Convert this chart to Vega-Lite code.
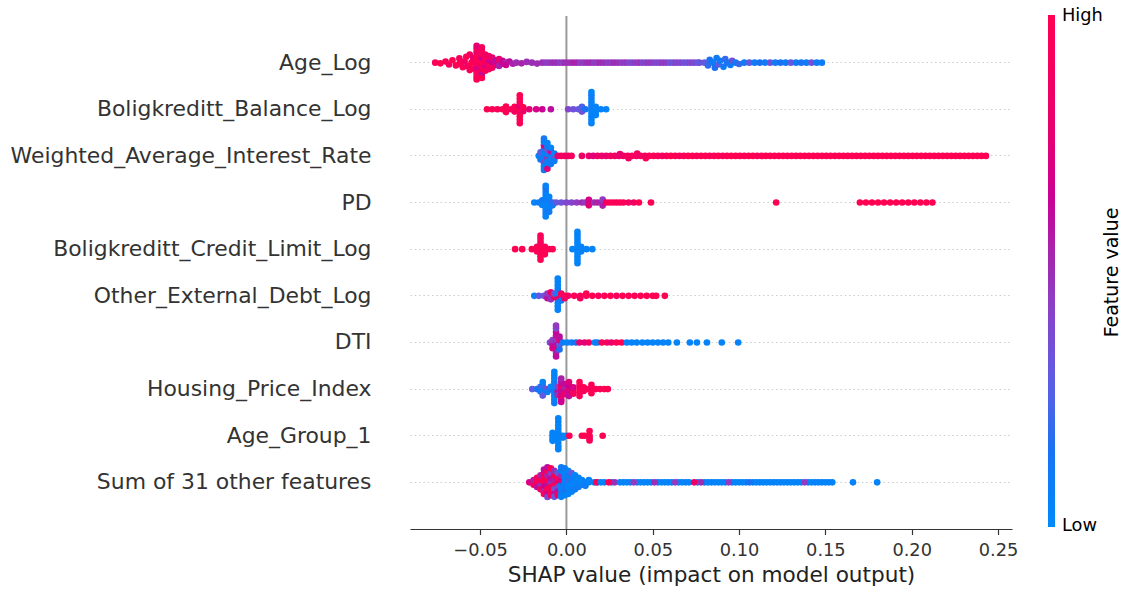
{
"$schema":"https://vega.github.io/schema/vega-lite/v6.json",
"width":602,"height":513,
"autosize":"none",
"padding":{"left":410,"top":16,"right":114,"bottom":60},
"background":"white",
"config":{"font":"DejaVu Sans","view":{"stroke":null}},
"title":{"text":"Feature value","orient":"right","anchor":"middle","angle":270,"baseline":"top","fontSize":19,"fontWeight":"normal","color":"#000000","offset":-19},
"datasets":{
"names":[{"k":1,"feature":"Age_Log"},{"k":2,"feature":"Boligkreditt_Balance_Log"},{"k":3,"feature":"Weighted_Average_Interest_Rate"},{"k":4,"feature":"PD"},{"k":5,"feature":"Boligkreditt_Credit_Limit_Log"},{"k":6,"feature":"Other_External_Debt_Log"},{"k":7,"feature":"DTI"},{"k":8,"feature":"Housing_Price_Index"},{"k":9,"feature":"Age_Group_1"},{"k":10,"feature":"Sum of 31 other features"}],
"points":[
{"k":1,"s":-0.076,"o":0,"v":0.95},{"k":1,"s":-0.073,"o":0.03,"v":1},{"k":1,"s":-0.070,"o":-0.05,"v":0.95},{"k":1,"s":-0.068,"o":0.08,"v":0.9},{"k":1,"s":-0.066,"o":-0.1,"v":1},{"k":1,"s":-0.064,"o":0.12,"v":0.95},{"k":1,"s":-0.062,"o":-0.18,"v":0.9},{"k":1,"s":-0.062,"o":0.05,"v":1},{"k":1,"s":-0.060,"o":0.2,"v":0.95},{"k":1,"s":-0.059,"o":-0.05,"v":0.85},{"k":1,"s":-0.058,"o":-0.25,"v":1},{"k":1,"s":-0.057,"o":0.15,"v":0.9},{"k":1,"s":-0.056,"o":0.32,"v":0.95},{"k":1,"s":-0.056,"o":-0.35,"v":0.9},{"k":1,"s":-0.055,"o":0,"v":1},{"k":1,"s":-0.054,"o":-0.2,"v":0.8},{"k":1,"s":-0.054,"o":0.25,"v":0.95},
{"k":1,"s":-0.052,"o":0,"v":1},{"k":1,"s":-0.052,"o":0.15,"v":0.9},{"k":1,"s":-0.052,"o":-0.15,"v":0.95},{"k":1,"s":-0.052,"o":0.3,"v":0.7},{"k":1,"s":-0.052,"o":-0.3,"v":1},{"k":1,"s":-0.052,"o":0.45,"v":0.95},{"k":1,"s":-0.052,"o":-0.45,"v":0.8},{"k":1,"s":-0.052,"o":0.6,"v":1},{"k":1,"s":-0.052,"o":-0.6,"v":0.9},{"k":1,"s":-0.052,"o":0.72,"v":0.95},{"k":1,"s":-0.052,"o":-0.72,"v":0.75},
{"k":1,"s":-0.049,"o":0.08,"v":0.85},{"k":1,"s":-0.049,"o":-0.08,"v":1},{"k":1,"s":-0.049,"o":0.22,"v":0.95},{"k":1,"s":-0.049,"o":-0.22,"v":0.65},{"k":1,"s":-0.049,"o":0.38,"v":0.9},{"k":1,"s":-0.049,"o":-0.38,"v":1},{"k":1,"s":-0.049,"o":0.52,"v":0.6},{"k":1,"s":-0.049,"o":-0.52,"v":0.95},{"k":1,"s":-0.049,"o":0.66,"v":1},{"k":1,"s":-0.049,"o":-0.66,"v":0.9},
{"k":1,"s":-0.047,"o":0,"v":0.9},{"k":1,"s":-0.047,"o":0.2,"v":0.7},{"k":1,"s":-0.047,"o":-0.2,"v":0.95},{"k":1,"s":-0.047,"o":0.35,"v":1},{"k":1,"s":-0.047,"o":-0.35,"v":0.85},
{"k":1,"s":-0.045,"o":0.1,"v":0.95},{"k":1,"s":-0.045,"o":-0.1,"v":0.7},{"k":1,"s":-0.045,"o":0.28,"v":0.85},{"k":1,"s":-0.045,"o":-0.28,"v":0.9},
{"k":1,"s":-0.043,"o":0,"v":0.65},{"k":1,"s":-0.043,"o":0.22,"v":0.9},{"k":1,"s":-0.043,"o":-0.22,"v":0.8},
{"k":1,"s":-0.041,"o":0.1,"v":0.75},{"k":1,"s":-0.041,"o":-0.1,"v":0.6},
{"k":1,"s":-0.039,"o":0,"v":0.7},{"k":1,"s":-0.039,"o":0.14,"v":0.55},{"k":1,"s":-0.039,"o":-0.15,"v":0.8},
{"k":1,"s":-0.037,"o":0.05,"v":0.6},{"k":1,"s":-0.037,"o":-0.08,"v":0.65},
{"k":1,"s":-0.035,"o":0,"v":0.55},{"k":1,"s":-0.035,"o":0.1,"v":0.65},
{"k":1,"s":-0.033,"o":-0.05,"v":0.6},{"k":1,"s":-0.031,"o":0.05,"v":0.55},{"k":1,"s":-0.029,"o":0,"v":0.5},{"k":1,"s":-0.026,"o":0.03,"v":0.55},{"k":1,"s":-0.023,"o":-0.03,"v":0.5},{"k":1,"s":-0.020,"o":0,"v":0.5},{"k":1,"s":-0.017,"o":0.04,"v":0.5},
{"k":1,"s":-0.014,"o":0,"v":0.5},{"k":1,"s":-0.010,"o":0,"v":0.45},{"k":1,"s":-0.006,"o":0,"v":0.5},{"k":1,"s":-0.002,"o":0,"v":0.55},{"k":1,"s":0.002,"o":0,"v":0.45},{"k":1,"s":0.006,"o":0,"v":0.5},{"k":1,"s":0.010,"o":0,"v":0.45},{"k":1,"s":0.014,"o":0,"v":0.5},{"k":1,"s":0.018,"o":0,"v":0.55},{"k":1,"s":0.022,"o":0,"v":0.45},{"k":1,"s":0.026,"o":0,"v":0.5},{"k":1,"s":0.030,"o":0,"v":0.45},{"k":1,"s":0.034,"o":0,"v":0.5},{"k":1,"s":0.038,"o":0,"v":0.4},{"k":1,"s":0.042,"o":0,"v":0.5},{"k":1,"s":0.046,"o":0,"v":0.45},{"k":1,"s":0.050,"o":0,"v":0.4},{"k":1,"s":0.054,"o":0,"v":0.45},{"k":1,"s":0.058,"o":0,"v":0.4},{"k":1,"s":0.062,"o":0,"v":0.45},{"k":1,"s":0.066,"o":0,"v":0.4},{"k":1,"s":0.070,"o":0,"v":0.35},{"k":1,"s":0.074,"o":0,"v":0.4},{"k":1,"s":0.077,"o":0,"v":0.45},
{"k":1,"s":-0.012,"o":0,"v":0.45},{"k":1,"s":-0.008,"o":0,"v":0.5},{"k":1,"s":-0.004,"o":0,"v":0.45},{"k":1,"s":0.000,"o":0,"v":0.5},{"k":1,"s":0.004,"o":0,"v":0.55},{"k":1,"s":0.008,"o":0,"v":0.45},{"k":1,"s":0.012,"o":0,"v":0.5},{"k":1,"s":0.016,"o":0,"v":0.45},{"k":1,"s":0.020,"o":0,"v":0.5},{"k":1,"s":0.024,"o":0,"v":0.45},{"k":1,"s":0.028,"o":0,"v":0.5},{"k":1,"s":0.032,"o":0,"v":0.45},{"k":1,"s":0.036,"o":0,"v":0.4},{"k":1,"s":0.040,"o":0,"v":0.45},{"k":1,"s":0.044,"o":0,"v":0.4},{"k":1,"s":0.048,"o":0,"v":0.45},{"k":1,"s":0.052,"o":0,"v":0.4},{"k":1,"s":0.056,"o":0,"v":0.45},{"k":1,"s":0.060,"o":0,"v":0.35},{"k":1,"s":0.064,"o":0,"v":0.4},{"k":1,"s":0.068,"o":0,"v":0.35},{"k":1,"s":0.072,"o":0,"v":0.4},{"k":1,"s":0.076,"o":0,"v":0.3},
{"k":1,"s":0.080,"o":0,"v":0.3},{"k":1,"s":0.082,"o":0.12,"v":0.2},{"k":1,"s":0.083,"o":-0.12,"v":0.15},{"k":1,"s":0.085,"o":0,"v":0.1},{"k":1,"s":0.086,"o":0.22,"v":0.15},{"k":1,"s":0.087,"o":-0.2,"v":0.1},{"k":1,"s":0.088,"o":0.08,"v":0.3},{"k":1,"s":0.089,"o":-0.08,"v":0.1},{"k":1,"s":0.091,"o":0.18,"v":0.1},{"k":1,"s":0.092,"o":-0.15,"v":0.2},{"k":1,"s":0.093,"o":0,"v":0.15},{"k":1,"s":0.095,"o":0.1,"v":0.1},{"k":1,"s":0.096,"o":-0.08,"v":0.35},{"k":1,"s":0.098,"o":0,"v":0.1},{"k":1,"s":0.100,"o":0.06,"v":0.2},
{"k":1,"s":0.103,"o":0,"v":0.1},{"k":1,"s":0.106,"o":0,"v":0.3},{"k":1,"s":0.109,"o":0,"v":0.1},{"k":1,"s":0.112,"o":0,"v":0.15},{"k":1,"s":0.115,"o":0,"v":0.1},{"k":1,"s":0.118,"o":0,"v":0.35},{"k":1,"s":0.121,"o":0,"v":0.1},{"k":1,"s":0.124,"o":0,"v":0.15},{"k":1,"s":0.127,"o":0,"v":0.1},{"k":1,"s":0.130,"o":0,"v":0.3},{"k":1,"s":0.133,"o":0,"v":0.1},{"k":1,"s":0.136,"o":0,"v":0.15},{"k":1,"s":0.139,"o":0,"v":0.1},{"k":1,"s":0.142,"o":0,"v":0.35},{"k":1,"s":0.145,"o":0,"v":0.1},{"k":1,"s":0.148,"o":0,"v":0.1},

{"k":2,"s":-0.046,"o":0,"v":1},{"k":2,"s":-0.043,"o":0,"v":1},{"k":2,"s":-0.040,"o":0,"v":0.95},{"k":2,"s":-0.037,"o":0,"v":1},{"k":2,"s":-0.035,"o":0.12,"v":0.95},{"k":2,"s":-0.035,"o":-0.12,"v":1},{"k":2,"s":-0.032,"o":0,"v":0.95},{"k":2,"s":-0.030,"o":0.1,"v":0.9},{"k":2,"s":-0.030,"o":-0.1,"v":1},
{"k":2,"s":-0.027,"o":0,"v":1},{"k":2,"s":-0.027,"o":0.15,"v":0.95},{"k":2,"s":-0.027,"o":-0.15,"v":0.7},{"k":2,"s":-0.027,"o":0.3,"v":1},{"k":2,"s":-0.027,"o":-0.3,"v":0.95},{"k":2,"s":-0.027,"o":0.45,"v":1},{"k":2,"s":-0.027,"o":-0.45,"v":1},{"k":2,"s":-0.027,"o":0.6,"v":0.95},{"k":2,"s":-0.027,"o":-0.6,"v":1},
{"k":2,"s":-0.025,"o":0.08,"v":0.8},{"k":2,"s":-0.025,"o":-0.08,"v":1},{"k":2,"s":-0.0215,"o":0,"v":0.75},{"k":2,"s":-0.0175,"o":0,"v":0.7},{"k":2,"s":-0.014,"o":0,"v":0.65},{"k":2,"s":-0.009,"o":0,"v":0.6},
{"k":2,"s":0.001,"o":0,"v":0.4},{"k":2,"s":0.004,"o":0,"v":0.35},{"k":2,"s":0.007,"o":0,"v":0.3},{"k":2,"s":0.009,"o":0.1,"v":0.35},{"k":2,"s":0.009,"o":-0.1,"v":0.25},{"k":2,"s":0.011,"o":0,"v":0.15},
{"k":2,"s":0.0145,"o":0,"v":0.05},{"k":2,"s":0.0145,"o":0.15,"v":0.05},{"k":2,"s":0.0145,"o":-0.15,"v":0.1},{"k":2,"s":0.0145,"o":0.3,"v":0.05},{"k":2,"s":0.0145,"o":-0.3,"v":0.05},{"k":2,"s":0.0145,"o":0.45,"v":0.05},{"k":2,"s":0.0145,"o":-0.45,"v":0.05},{"k":2,"s":0.0145,"o":0.6,"v":0.05},{"k":2,"s":0.0145,"o":-0.6,"v":0.1},{"k":2,"s":0.0145,"o":-0.74,"v":0.05},
{"k":2,"s":0.017,"o":0.1,"v":0.05},{"k":2,"s":0.017,"o":-0.1,"v":0.05},{"k":2,"s":0.017,"o":0.25,"v":0.05},{"k":2,"s":0.020,"o":0,"v":0.05},{"k":2,"s":0.023,"o":0,"v":0.05},

{"k":3,"s":-0.016,"o":0,"v":0.05},{"k":3,"s":-0.015,"o":0.15,"v":0.1},{"k":3,"s":-0.015,"o":-0.15,"v":0.3},
{"k":3,"s":-0.013,"o":0,"v":0.05},{"k":3,"s":-0.013,"o":0.15,"v":0.1},{"k":3,"s":-0.013,"o":-0.15,"v":0.05},{"k":3,"s":-0.013,"o":0.3,"v":0.4},{"k":3,"s":-0.013,"o":-0.3,"v":0.1},{"k":3,"s":-0.013,"o":0.45,"v":0.05},{"k":3,"s":-0.013,"o":-0.45,"v":0.7},{"k":3,"s":-0.013,"o":0.6,"v":0.1},{"k":3,"s":-0.013,"o":-0.6,"v":0.05},{"k":3,"s":-0.013,"o":-0.74,"v":0.1},
{"k":3,"s":-0.011,"o":0.08,"v":0.5},{"k":3,"s":-0.011,"o":-0.08,"v":0.05},{"k":3,"s":-0.011,"o":0.25,"v":0.1},{"k":3,"s":-0.011,"o":-0.25,"v":0.35},{"k":3,"s":-0.011,"o":0.4,"v":0.05},{"k":3,"s":-0.011,"o":-0.4,"v":0.1},{"k":3,"s":-0.011,"o":0.55,"v":0.75},{"k":3,"s":-0.011,"o":-0.55,"v":0.05},
{"k":3,"s":-0.009,"o":0,"v":0.1},{"k":3,"s":-0.009,"o":0.2,"v":0.05},{"k":3,"s":-0.009,"o":-0.2,"v":0.6},{"k":3,"s":-0.009,"o":0.35,"v":0.1},{"k":3,"s":-0.009,"o":-0.35,"v":0.05},
{"k":3,"s":-0.007,"o":0.1,"v":0.4},{"k":3,"s":-0.007,"o":-0.1,"v":0.05},{"k":3,"s":-0.007,"o":0.22,"v":0.1},
{"k":3,"s":-0.005,"o":0,"v":0.8},{"k":3,"s":-0.003,"o":0,"v":0.85},{"k":3,"s":-0.001,"o":0,"v":0.9},{"k":3,"s":0.001,"o":0,"v":0.85},{"k":3,"s":0.003,"o":0,"v":0.9},{"k":3,"s":0.009,"o":0,"v":0.85},
{"k":3,"s":0.013,"o":0,"v":0.8},{"k":3,"s":0.018,"o":0,"v":0.85},{"k":3,"s":0.023,"o":0,"v":0.8},{"k":3,"s":0.028,"o":0,"v":0.9},{"k":3,"s":0.031,"o":-0.08,"v":0.8},{"k":3,"s":0.033,"o":0,"v":0.85},{"k":3,"s":0.036,"o":0.1,"v":0.85},{"k":3,"s":0.038,"o":0,"v":0.95},{"k":3,"s":0.041,"o":-0.1,"v":0.9},{"k":3,"s":0.043,"o":0,"v":0.9},{"k":3,"s":0.046,"o":0.1,"v":0.95},{"k":3,"s":0.048,"o":0,"v":1},{"k":3,"s":0.053,"o":0,"v":0.95},{"k":3,"s":0.058,"o":0,"v":1},{"k":3,"s":0.063,"o":0,"v":1},{"k":3,"s":0.068,"o":0,"v":0.95},{"k":3,"s":0.073,"o":0,"v":1},{"k":3,"s":0.078,"o":0,"v":1},{"k":3,"s":0.083,"o":0,"v":0.95},{"k":3,"s":0.088,"o":0,"v":1},{"k":3,"s":0.093,"o":0,"v":1},{"k":3,"s":0.098,"o":0,"v":1},{"k":3,"s":0.103,"o":0,"v":0.95},{"k":3,"s":0.108,"o":0,"v":1},{"k":3,"s":0.113,"o":0,"v":1},{"k":3,"s":0.118,"o":0,"v":1},{"k":3,"s":0.123,"o":0,"v":1},{"k":3,"s":0.128,"o":0,"v":0.95},{"k":3,"s":0.133,"o":0,"v":1},{"k":3,"s":0.138,"o":0,"v":1},{"k":3,"s":0.143,"o":0,"v":1},{"k":3,"s":0.148,"o":0,"v":1},{"k":3,"s":0.153,"o":0,"v":1},{"k":3,"s":0.158,"o":0,"v":1},{"k":3,"s":0.163,"o":0,"v":1},{"k":3,"s":0.168,"o":0,"v":1},{"k":3,"s":0.173,"o":0,"v":1},{"k":3,"s":0.178,"o":0,"v":1},{"k":3,"s":0.183,"o":0,"v":1},{"k":3,"s":0.188,"o":0,"v":1},{"k":3,"s":0.193,"o":0,"v":1},{"k":3,"s":0.198,"o":0,"v":1},{"k":3,"s":0.203,"o":0,"v":1},{"k":3,"s":0.208,"o":0,"v":1},{"k":3,"s":0.213,"o":0,"v":1},{"k":3,"s":0.218,"o":0,"v":1},{"k":3,"s":0.223,"o":0,"v":1},{"k":3,"s":0.228,"o":0,"v":1},{"k":3,"s":0.233,"o":0,"v":1},{"k":3,"s":0.238,"o":0,"v":1},{"k":3,"s":0.243,"o":0,"v":1},
{"k":3,"s":0.0155,"o":0,"v":0.75},{"k":3,"s":0.0205,"o":0,"v":0.8},{"k":3,"s":0.0255,"o":0,"v":0.85},{"k":3,"s":0.0305,"o":0,"v":0.8},{"k":3,"s":0.0355,"o":0,"v":0.9},{"k":3,"s":0.0405,"o":0,"v":0.85},{"k":3,"s":0.0455,"o":0,"v":0.9},{"k":3,"s":0.0505,"o":0,"v":0.95},{"k":3,"s":0.0555,"o":0,"v":0.9},{"k":3,"s":0.0605,"o":0,"v":1},{"k":3,"s":0.0655,"o":0,"v":0.95},{"k":3,"s":0.0705,"o":0,"v":1},{"k":3,"s":0.0755,"o":0,"v":0.95},{"k":3,"s":0.0805,"o":0,"v":1},{"k":3,"s":0.0855,"o":0,"v":1},{"k":3,"s":0.0905,"o":0,"v":0.95},{"k":3,"s":0.0955,"o":0,"v":1},{"k":3,"s":0.1005,"o":0,"v":1},{"k":3,"s":0.1055,"o":0,"v":1},{"k":3,"s":0.1105,"o":0,"v":0.95},{"k":3,"s":0.1155,"o":0,"v":1},{"k":3,"s":0.1205,"o":0,"v":1},{"k":3,"s":0.1255,"o":0,"v":1},{"k":3,"s":0.1305,"o":0,"v":1},{"k":3,"s":0.1355,"o":0,"v":1},{"k":3,"s":0.1405,"o":0,"v":1},{"k":3,"s":0.1455,"o":0,"v":1},{"k":3,"s":0.1505,"o":0,"v":1},{"k":3,"s":0.1555,"o":0,"v":1},{"k":3,"s":0.1605,"o":0,"v":1},{"k":3,"s":0.1655,"o":0,"v":1},{"k":3,"s":0.1705,"o":0,"v":1},{"k":3,"s":0.1755,"o":0,"v":1},{"k":3,"s":0.1805,"o":0,"v":1},{"k":3,"s":0.1855,"o":0,"v":1},{"k":3,"s":0.1905,"o":0,"v":1},{"k":3,"s":0.1955,"o":0,"v":1},{"k":3,"s":0.2005,"o":0,"v":1},{"k":3,"s":0.2055,"o":0,"v":1},{"k":3,"s":0.2105,"o":0,"v":1},{"k":3,"s":0.2155,"o":0,"v":1},{"k":3,"s":0.2205,"o":0,"v":1},{"k":3,"s":0.2255,"o":0,"v":1},{"k":3,"s":0.2305,"o":0,"v":1},{"k":3,"s":0.2355,"o":0,"v":1},{"k":3,"s":0.2405,"o":0,"v":1},

{"k":4,"s":-0.0186,"o":0,"v":0.05},{"k":4,"s":-0.016,"o":0,"v":0.1},{"k":4,"s":-0.014,"o":0.1,"v":0.05},{"k":4,"s":-0.014,"o":-0.1,"v":0.1},
{"k":4,"s":-0.012,"o":0,"v":0.05},{"k":4,"s":-0.012,"o":0.15,"v":0.05},{"k":4,"s":-0.012,"o":-0.15,"v":0.1},{"k":4,"s":-0.012,"o":0.3,"v":0.05},{"k":4,"s":-0.012,"o":-0.3,"v":0.05},{"k":4,"s":-0.012,"o":0.45,"v":0.1},{"k":4,"s":-0.012,"o":-0.45,"v":0.05},{"k":4,"s":-0.012,"o":0.6,"v":0.05},{"k":4,"s":-0.012,"o":-0.6,"v":0.15},{"k":4,"s":-0.012,"o":-0.72,"v":0.05},
{"k":4,"s":-0.010,"o":0.1,"v":0.05},{"k":4,"s":-0.010,"o":-0.1,"v":0.1},{"k":4,"s":-0.010,"o":0.25,"v":0.05},{"k":4,"s":-0.010,"o":-0.25,"v":0.05},{"k":4,"s":-0.010,"o":0.4,"v":0.1},
{"k":4,"s":-0.008,"o":0,"v":0.2},{"k":4,"s":-0.008,"o":0.12,"v":0.1},
{"k":4,"s":-0.006,"o":0,"v":0.3},{"k":4,"s":-0.003,"o":0,"v":0.35},{"k":4,"s":0,"o":0,"v":0.4},{"k":4,"s":0.003,"o":0,"v":0.4},{"k":4,"s":0.006,"o":0,"v":0.45},{"k":4,"s":0.009,"o":0,"v":0.5},{"k":4,"s":0.011,"o":0,"v":0.45},
{"k":4,"s":0.013,"o":0,"v":0.7},{"k":4,"s":0.013,"o":0.12,"v":0.75},{"k":4,"s":0.013,"o":-0.12,"v":0.7},{"k":4,"s":0.016,"o":0,"v":0.5},{"k":4,"s":0.018,"o":0,"v":0.55},
{"k":4,"s":0.021,"o":0,"v":0.5},{"k":4,"s":0.021,"o":0.13,"v":0.55},{"k":4,"s":0.021,"o":-0.13,"v":0.45},
{"k":4,"s":0.023,"o":0,"v":0.9},{"k":4,"s":0.025,"o":0,"v":0.95},{"k":4,"s":0.027,"o":0,"v":1},{"k":4,"s":0.029,"o":0,"v":0.9},{"k":4,"s":0.031,"o":0,"v":1},{"k":4,"s":0.033,"o":0,"v":0.95},{"k":4,"s":0.036,"o":0,"v":0.9},{"k":4,"s":0.039,"o":0,"v":0.85},{"k":4,"s":0.042,"o":0,"v":1},{"k":4,"s":0.049,"o":0,"v":1},{"k":4,"s":0.1215,"o":0,"v":1},
{"k":4,"s":0.170,"o":0,"v":1},{"k":4,"s":0.1735,"o":0,"v":1},{"k":4,"s":0.177,"o":0,"v":1},{"k":4,"s":0.1805,"o":0,"v":1},{"k":4,"s":0.184,"o":0,"v":1},{"k":4,"s":0.1875,"o":0,"v":1},{"k":4,"s":0.191,"o":0,"v":1},{"k":4,"s":0.1945,"o":0,"v":1},{"k":4,"s":0.198,"o":0,"v":1},{"k":4,"s":0.2015,"o":0,"v":1},{"k":4,"s":0.205,"o":0,"v":1},{"k":4,"s":0.2085,"o":0,"v":1},{"k":4,"s":0.212,"o":0,"v":1},

{"k":5,"s":-0.0297,"o":0,"v":1},{"k":5,"s":-0.0256,"o":0,"v":1},{"k":5,"s":-0.020,"o":0,"v":1},{"k":5,"s":-0.017,"o":0.1,"v":0.95},{"k":5,"s":-0.017,"o":-0.1,"v":1},
{"k":5,"s":-0.015,"o":0,"v":1},{"k":5,"s":-0.015,"o":0.15,"v":0.95},{"k":5,"s":-0.015,"o":-0.15,"v":1},{"k":5,"s":-0.015,"o":0.3,"v":1},{"k":5,"s":-0.015,"o":-0.3,"v":0.9},{"k":5,"s":-0.015,"o":0.45,"v":1},{"k":5,"s":-0.015,"o":-0.45,"v":1},{"k":5,"s":-0.015,"o":-0.58,"v":0.95},
{"k":5,"s":-0.0125,"o":0.1,"v":1},{"k":5,"s":-0.0125,"o":-0.1,"v":1},{"k":5,"s":-0.0125,"o":0.22,"v":1},{"k":5,"s":-0.010,"o":0,"v":0.95},{"k":5,"s":-0.008,"o":0,"v":1},
{"k":5,"s":0.0035,"o":0,"v":0.05},
{"k":5,"s":0.0064,"o":0,"v":0.05},{"k":5,"s":0.0064,"o":0.15,"v":0.05},{"k":5,"s":0.0064,"o":-0.15,"v":0.05},{"k":5,"s":0.0064,"o":0.3,"v":0.05},{"k":5,"s":0.0064,"o":-0.3,"v":0.05},{"k":5,"s":0.0064,"o":0.45,"v":0.05},{"k":5,"s":0.0064,"o":-0.45,"v":0.05},{"k":5,"s":0.0064,"o":0.6,"v":0.05},{"k":5,"s":0.0064,"o":-0.6,"v":0.05},{"k":5,"s":0.0064,"o":-0.74,"v":0.05},
{"k":5,"s":0.0085,"o":0.1,"v":0.05},{"k":5,"s":0.0085,"o":-0.1,"v":0.05},{"k":5,"s":0.0116,"o":0,"v":0.05},{"k":5,"s":0.015,"o":0,"v":0.05},

{"k":6,"s":-0.0186,"o":0,"v":0.05},{"k":6,"s":-0.016,"o":0,"v":0.3},{"k":6,"s":-0.013,"o":0,"v":0.35},{"k":6,"s":-0.011,"o":0.1,"v":0.6},{"k":6,"s":-0.011,"o":-0.1,"v":0.45},
{"k":6,"s":-0.009,"o":0,"v":0.5},{"k":6,"s":-0.009,"o":0.15,"v":0.5},{"k":6,"s":-0.009,"o":-0.15,"v":0.8},
{"k":6,"s":-0.007,"o":0.05,"v":0.9},{"k":6,"s":-0.007,"o":-0.1,"v":0.35},
{"k":6,"s":-0.005,"o":0,"v":0.05},{"k":6,"s":-0.005,"o":0.15,"v":0.8},{"k":6,"s":-0.005,"o":-0.15,"v":0.05},{"k":6,"s":-0.005,"o":0.3,"v":0.05},{"k":6,"s":-0.005,"o":-0.3,"v":0.1},{"k":6,"s":-0.005,"o":0.45,"v":0.05},{"k":6,"s":-0.005,"o":-0.45,"v":0.05},{"k":6,"s":-0.005,"o":0.6,"v":0.05},{"k":6,"s":-0.005,"o":-0.6,"v":0.05},{"k":6,"s":-0.005,"o":-0.74,"v":0.05},
{"k":6,"s":-0.003,"o":0.05,"v":0.85},{"k":6,"s":-0.003,"o":-0.1,"v":0.9},{"k":6,"s":-0.003,"o":0.2,"v":0.1},{"k":6,"s":-0.001,"o":0,"v":0.95},{"k":6,"s":-0.001,"o":0.1,"v":0.85},
{"k":6,"s":0.001,"o":0,"v":0.9},{"k":6,"s":0.0045,"o":0,"v":0.95},{"k":6,"s":0.008,"o":0,"v":1},{"k":6,"s":0.008,"o":0.1,"v":0.9},{"k":6,"s":0.0115,"o":0,"v":0.95},{"k":6,"s":0.0115,"o":-0.1,"v":1},{"k":6,"s":0.015,"o":0,"v":1},{"k":6,"s":0.0185,"o":0,"v":0.95},{"k":6,"s":0.022,"o":0,"v":1},{"k":6,"s":0.0255,"o":0,"v":1},{"k":6,"s":0.029,"o":0,"v":0.95},{"k":6,"s":0.0325,"o":0,"v":1},{"k":6,"s":0.036,"o":0,"v":1},{"k":6,"s":0.0395,"o":0,"v":0.95},{"k":6,"s":0.043,"o":0,"v":1},{"k":6,"s":0.0465,"o":0,"v":1},{"k":6,"s":0.050,"o":0,"v":1},{"k":6,"s":0.052,"o":0,"v":1},{"k":6,"s":0.057,"o":0,"v":1},

{"k":7,"s":-0.0095,"o":0,"v":0.4},{"k":7,"s":-0.008,"o":0.1,"v":0.6},{"k":7,"s":-0.008,"o":-0.1,"v":0.45},{"k":7,"s":-0.008,"o":0.25,"v":0.7},
{"k":7,"s":-0.006,"o":0,"v":0.55},{"k":7,"s":-0.006,"o":0.15,"v":0.6},{"k":7,"s":-0.006,"o":-0.15,"v":0.45},{"k":7,"s":-0.006,"o":0.3,"v":0.7},{"k":7,"s":-0.006,"o":-0.3,"v":0.6},{"k":7,"s":-0.006,"o":0.45,"v":0.55},{"k":7,"s":-0.006,"o":-0.45,"v":0.65},{"k":7,"s":-0.006,"o":0.6,"v":0.6},{"k":7,"s":-0.006,"o":-0.6,"v":0.4},{"k":7,"s":-0.006,"o":-0.72,"v":0.45},
{"k":7,"s":-0.004,"o":0.1,"v":0.3},{"k":7,"s":-0.004,"o":-0.1,"v":0.75},{"k":7,"s":-0.004,"o":0.3,"v":0.15},{"k":7,"s":-0.004,"o":-0.25,"v":0.6},
{"k":7,"s":-0.002,"o":0,"v":0.1},{"k":7,"s":0.0005,"o":0,"v":0.05},{"k":7,"s":0.003,"o":0,"v":0.1},{"k":7,"s":0.0055,"o":0,"v":0.15},
{"k":7,"s":0.0076,"o":0,"v":0.8},{"k":7,"s":0.0105,"o":0,"v":0.75},{"k":7,"s":0.013,"o":0,"v":0.85},{"k":7,"s":0.0165,"o":0,"v":0.05},{"k":7,"s":0.018,"o":0,"v":0.1},{"k":7,"s":0.0205,"o":0,"v":0.95},{"k":7,"s":0.0235,"o":0,"v":0.9},{"k":7,"s":0.026,"o":0,"v":0.8},{"k":7,"s":0.029,"o":0,"v":1},{"k":7,"s":0.032,"o":0,"v":1},
{"k":7,"s":0.035,"o":0,"v":0.05},{"k":7,"s":0.0378,"o":0,"v":0.05},{"k":7,"s":0.0407,"o":0,"v":0.05},{"k":7,"s":0.044,"o":0,"v":0.05},{"k":7,"s":0.047,"o":0,"v":0.05},{"k":7,"s":0.050,"o":0,"v":0.05},{"k":7,"s":0.053,"o":0,"v":0.05},{"k":7,"s":0.056,"o":0,"v":0.05},{"k":7,"s":0.059,"o":0,"v":0.05},{"k":7,"s":0.064,"o":0,"v":0.05},{"k":7,"s":0.0715,"o":0,"v":0.05},{"k":7,"s":0.0756,"o":0,"v":0.05},{"k":7,"s":0.0814,"o":0,"v":0.05},{"k":7,"s":0.090,"o":0,"v":0.05},{"k":7,"s":0.0995,"o":0,"v":0.05},

{"k":8,"s":-0.0198,"o":0,"v":0.3},{"k":8,"s":-0.017,"o":0,"v":0.15},{"k":8,"s":-0.015,"o":0.1,"v":0.1},{"k":8,"s":-0.015,"o":-0.1,"v":0.2},
{"k":8,"s":-0.0137,"o":0,"v":0.05},{"k":8,"s":-0.0137,"o":0.15,"v":0.1},{"k":8,"s":-0.0137,"o":-0.15,"v":0.2},{"k":8,"s":-0.0137,"o":-0.3,"v":0.05},{"k":8,"s":-0.0137,"o":0.28,"v":0.3},
{"k":8,"s":-0.011,"o":0,"v":0.4},{"k":8,"s":-0.011,"o":0.12,"v":0.1},{"k":8,"s":-0.009,"o":0,"v":0.15},{"k":8,"s":-0.009,"o":-0.1,"v":0.05},
{"k":8,"s":-0.007,"o":0,"v":0.05},{"k":8,"s":-0.007,"o":0.15,"v":0.1},{"k":8,"s":-0.007,"o":-0.15,"v":0.05},{"k":8,"s":-0.007,"o":0.3,"v":0.05},{"k":8,"s":-0.007,"o":-0.3,"v":0.1},{"k":8,"s":-0.007,"o":0.45,"v":0.05},{"k":8,"s":-0.007,"o":-0.45,"v":0.05},{"k":8,"s":-0.007,"o":0.6,"v":0.1},{"k":8,"s":-0.007,"o":-0.6,"v":0.05},{"k":8,"s":-0.007,"o":-0.74,"v":0.05},
{"k":8,"s":-0.005,"o":0.1,"v":0.6},{"k":8,"s":-0.005,"o":-0.1,"v":0.4},{"k":8,"s":-0.005,"o":0.25,"v":0.5},
{"k":8,"s":-0.003,"o":0,"v":0.75},{"k":8,"s":-0.003,"o":0.15,"v":0.6},{"k":8,"s":-0.003,"o":-0.15,"v":0.8},{"k":8,"s":-0.003,"o":0.3,"v":0.7},{"k":8,"s":-0.003,"o":-0.3,"v":0.6},{"k":8,"s":-0.003,"o":0.45,"v":0.75},{"k":8,"s":-0.003,"o":-0.45,"v":0.55},{"k":8,"s":-0.003,"o":0.55,"v":0.65},
{"k":8,"s":-0.001,"o":0.08,"v":0.7},{"k":8,"s":-0.001,"o":-0.08,"v":0.55},{"k":8,"s":-0.001,"o":0.22,"v":0.8},{"k":8,"s":-0.001,"o":-0.22,"v":0.6},
{"k":8,"s":0.0015,"o":0,"v":0.8},{"k":8,"s":0.0015,"o":0.15,"v":0.7},{"k":8,"s":0.0015,"o":-0.15,"v":0.65},{"k":8,"s":0.0015,"o":-0.3,"v":0.75},{"k":8,"s":0.0015,"o":0.3,"v":0.6},
{"k":8,"s":0.004,"o":0.08,"v":0.85},{"k":8,"s":0.004,"o":-0.08,"v":0.7},{"k":8,"s":0.004,"o":0.2,"v":0.9},
{"k":8,"s":0.0076,"o":0,"v":0.95},{"k":8,"s":0.0076,"o":0.15,"v":1},{"k":8,"s":0.0076,"o":-0.15,"v":0.9},{"k":8,"s":0.0076,"o":0.3,"v":0.95},{"k":8,"s":0.0076,"o":-0.3,"v":1},
{"k":8,"s":0.010,"o":0.08,"v":0.9},{"k":8,"s":0.010,"o":-0.08,"v":1},{"k":8,"s":0.012,"o":0,"v":0.95},
{"k":8,"s":0.0145,"o":0,"v":0.9},{"k":8,"s":0.0145,"o":0.18,"v":1},{"k":8,"s":0.0145,"o":-0.18,"v":0.95},
{"k":8,"s":0.017,"o":0,"v":1},{"k":8,"s":0.0195,"o":0,"v":0.95},{"k":8,"s":0.022,"o":0,"v":1},{"k":8,"s":0.024,"o":0,"v":1},

{"k":9,"s":-0.008,"o":0,"v":0.05},{"k":9,"s":-0.008,"o":0.12,"v":0.05},{"k":9,"s":-0.008,"o":-0.12,"v":0.05},{"k":9,"s":-0.008,"o":0.22,"v":0.05},
{"k":9,"s":-0.0047,"o":0,"v":0.05},{"k":9,"s":-0.0047,"o":0.15,"v":0.05},{"k":9,"s":-0.0047,"o":-0.15,"v":0.05},{"k":9,"s":-0.0047,"o":0.3,"v":0.05},{"k":9,"s":-0.0047,"o":-0.3,"v":0.05},{"k":9,"s":-0.0047,"o":0.45,"v":0.05},{"k":9,"s":-0.0047,"o":-0.45,"v":0.05},{"k":9,"s":-0.0047,"o":0.58,"v":0.05},{"k":9,"s":-0.0047,"o":-0.6,"v":0.05},{"k":9,"s":-0.0047,"o":-0.75,"v":0.05},
{"k":9,"s":-0.002,"o":0,"v":0.05},{"k":9,"s":-0.002,"o":0.08,"v":0.05},{"k":9,"s":0,"o":0,"v":0.05},
{"k":9,"s":0.0017,"o":0,"v":1},{"k":9,"s":0.009,"o":0,"v":1},{"k":9,"s":0.0105,"o":0,"v":1},
{"k":9,"s":0.0134,"o":0,"v":1},{"k":9,"s":0.0134,"o":0.2,"v":1},{"k":9,"s":0.0134,"o":-0.2,"v":1},{"k":9,"s":0.0134,"o":0.1,"v":0.95},{"k":9,"s":0.021,"o":0,"v":1},

{"k":10,"s":-0.0215,"o":0,"v":0.7},{"k":10,"s":-0.019,"o":0.1,"v":0.9},{"k":10,"s":-0.019,"o":-0.1,"v":0.55},
{"k":10,"s":-0.017,"o":0,"v":1},{"k":10,"s":-0.017,"o":0.2,"v":0.6},{"k":10,"s":-0.017,"o":-0.2,"v":0.95},
{"k":10,"s":-0.015,"o":0.1,"v":0.5},{"k":10,"s":-0.015,"o":-0.1,"v":0.95},{"k":10,"s":-0.015,"o":0.3,"v":0.9},{"k":10,"s":-0.015,"o":-0.3,"v":0.55},
{"k":10,"s":-0.013,"o":0,"v":0.95},{"k":10,"s":-0.013,"o":0.2,"v":0.65},{"k":10,"s":-0.013,"o":-0.2,"v":1},{"k":10,"s":-0.013,"o":0.4,"v":0.5},{"k":10,"s":-0.013,"o":-0.4,"v":0.9},{"k":10,"s":-0.013,"o":-0.55,"v":0.6},{"k":10,"s":-0.013,"o":0.5,"v":0.95},
{"k":10,"s":-0.011,"o":0.1,"v":0.6},{"k":10,"s":-0.011,"o":-0.1,"v":0.95},{"k":10,"s":-0.011,"o":0.3,"v":1},{"k":10,"s":-0.011,"o":-0.3,"v":0.55},{"k":10,"s":-0.011,"o":0.5,"v":0.65},{"k":10,"s":-0.011,"o":-0.5,"v":0.95},{"k":10,"s":-0.011,"o":0.63,"v":0.4},{"k":10,"s":-0.011,"o":-0.65,"v":0.6},
{"k":10,"s":-0.009,"o":0,"v":0.5},{"k":10,"s":-0.009,"o":0.2,"v":0.95},{"k":10,"s":-0.009,"o":-0.2,"v":0.6},{"k":10,"s":-0.009,"o":0.4,"v":1},{"k":10,"s":-0.009,"o":-0.4,"v":0.45},{"k":10,"s":-0.009,"o":0.55,"v":0.9},{"k":10,"s":-0.009,"o":-0.6,"v":0.95},
{"k":10,"s":-0.007,"o":0.1,"v":1},{"k":10,"s":-0.007,"o":-0.1,"v":0.55},{"k":10,"s":-0.007,"o":0.3,"v":0.35},{"k":10,"s":-0.007,"o":-0.3,"v":0.95},{"k":10,"s":-0.007,"o":0.5,"v":0.6},{"k":10,"s":-0.007,"o":-0.5,"v":0.5},{"k":10,"s":-0.007,"o":0.62,"v":0.3},
{"k":10,"s":-0.005,"o":0,"v":0.9},{"k":10,"s":-0.005,"o":0.2,"v":0.4},{"k":10,"s":-0.005,"o":-0.2,"v":1},{"k":10,"s":-0.005,"o":0.4,"v":0.6},{"k":10,"s":-0.005,"o":-0.4,"v":0.3},{"k":10,"s":-0.005,"o":0.55,"v":0.95},
{"k":10,"s":-0.003,"o":0.1,"v":0.1},{"k":10,"s":-0.003,"o":-0.1,"v":0.7},{"k":10,"s":-0.003,"o":0.3,"v":0.05},{"k":10,"s":-0.003,"o":-0.3,"v":0.5},{"k":10,"s":-0.003,"o":0.5,"v":0.1},{"k":10,"s":-0.003,"o":-0.5,"v":0.05},{"k":10,"s":-0.003,"o":-0.65,"v":0.1},{"k":10,"s":-0.003,"o":0.62,"v":0.05},
{"k":10,"s":-0.001,"o":0,"v":0.05},{"k":10,"s":-0.001,"o":0.2,"v":0.1},{"k":10,"s":-0.001,"o":-0.2,"v":0.05},{"k":10,"s":-0.001,"o":0.4,"v":0.15},{"k":10,"s":-0.001,"o":-0.4,"v":0.05},{"k":10,"s":-0.001,"o":0.55,"v":0.05},{"k":10,"s":-0.001,"o":-0.6,"v":0.1},
{"k":10,"s":0.001,"o":0.1,"v":0.05},{"k":10,"s":0.001,"o":-0.1,"v":0.2},{"k":10,"s":0.001,"o":0.3,"v":0.05},{"k":10,"s":0.001,"o":-0.3,"v":0.1},{"k":10,"s":0.001,"o":0.5,"v":0.05},{"k":10,"s":0.001,"o":-0.5,"v":0.05},
{"k":10,"s":0.003,"o":0,"v":0.05},{"k":10,"s":0.003,"o":0.2,"v":0.05},{"k":10,"s":0.003,"o":-0.2,"v":0.1},{"k":10,"s":0.003,"o":0.4,"v":0.05},{"k":10,"s":0.003,"o":-0.4,"v":0.3},
{"k":10,"s":0.005,"o":0.1,"v":0.05},{"k":10,"s":0.005,"o":-0.1,"v":0.05},{"k":10,"s":0.005,"o":0.3,"v":0.1},{"k":10,"s":0.005,"o":-0.3,"v":0.05},
{"k":10,"s":0.007,"o":0,"v":0.05},{"k":10,"s":0.007,"o":0.2,"v":0.1},{"k":10,"s":0.007,"o":-0.2,"v":0.05},
{"k":10,"s":0.009,"o":0.1,"v":0.05},{"k":10,"s":0.009,"o":-0.1,"v":0.05},{"k":10,"s":0.011,"o":0,"v":0.05},{"k":10,"s":0.011,"o":0.15,"v":0.1},{"k":10,"s":0.013,"o":0,"v":0.05},{"k":10,"s":0.013,"o":-0.1,"v":0.05},
{"k":10,"s":0.018,"o":0,"v":0.05},{"k":10,"s":0.022,"o":0,"v":0.05},{"k":10,"s":0.026,"o":0,"v":0.05},{"k":10,"s":0.033,"o":0,"v":0.05},{"k":10,"s":0.037,"o":0,"v":0.05},{"k":10,"s":0.041,"o":0,"v":0.05},{"k":10,"s":0.045,"o":0,"v":0.05},{"k":10,"s":0.049,"o":0,"v":0.05},{"k":10,"s":0.053,"o":0,"v":0.05},{"k":10,"s":0.057,"o":0,"v":0.05},{"k":10,"s":0.061,"o":0,"v":0.05},{"k":10,"s":0.065,"o":0,"v":0.05},{"k":10,"s":0.069,"o":0,"v":0.05},{"k":10,"s":0.076,"o":0,"v":0.05},{"k":10,"s":0.080,"o":0,"v":0.05},{"k":10,"s":0.084,"o":0,"v":0.05},{"k":10,"s":0.088,"o":0,"v":0.05},{"k":10,"s":0.092,"o":0,"v":0.05},{"k":10,"s":0.096,"o":0,"v":0.05},{"k":10,"s":0.100,"o":0,"v":0.05},{"k":10,"s":0.104,"o":0,"v":0.05},{"k":10,"s":0.108,"o":0,"v":0.05},{"k":10,"s":0.112,"o":0,"v":0.05},{"k":10,"s":0.116,"o":0,"v":0.05},{"k":10,"s":0.120,"o":0,"v":0.05},{"k":10,"s":0.124,"o":0,"v":0.05},{"k":10,"s":0.128,"o":0,"v":0.05},{"k":10,"s":0.132,"o":0,"v":0.05},{"k":10,"s":0.136,"o":0,"v":0.05},{"k":10,"s":0.140,"o":0,"v":0.05},{"k":10,"s":0.144,"o":0,"v":0.05},{"k":10,"s":0.148,"o":0,"v":0.05},{"k":10,"s":0.152,"o":0,"v":0.05},
{"k":10,"s":0.016,"o":0,"v":0.05},{"k":10,"s":0.0175,"o":0,"v":1},{"k":10,"s":0.020,"o":0,"v":0.05},{"k":10,"s":0.0245,"o":0,"v":0.95},{"k":10,"s":0.028,"o":0,"v":0.5},{"k":10,"s":0.031,"o":0,"v":0.05},{"k":10,"s":0.035,"o":0,"v":0.05},{"k":10,"s":0.039,"o":0,"v":0.45},{"k":10,"s":0.043,"o":0,"v":0.05},{"k":10,"s":0.047,"o":0,"v":0.05},{"k":10,"s":0.051,"o":0,"v":0.5},{"k":10,"s":0.055,"o":0,"v":0.05},{"k":10,"s":0.059,"o":0,"v":0.05},{"k":10,"s":0.063,"o":0,"v":0.45},{"k":10,"s":0.067,"o":0,"v":0.05},{"k":10,"s":0.071,"o":0,"v":0.05},{"k":10,"s":0.074,"o":0,"v":0.85},{"k":10,"s":0.078,"o":0,"v":0.5},{"k":10,"s":0.082,"o":0,"v":0.05},{"k":10,"s":0.086,"o":0,"v":0.05},{"k":10,"s":0.090,"o":0,"v":0.05},{"k":10,"s":0.094,"o":0,"v":0.45},{"k":10,"s":0.098,"o":0,"v":0.05},{"k":10,"s":0.102,"o":0,"v":0.05},{"k":10,"s":0.106,"o":0,"v":0.15},{"k":10,"s":0.110,"o":0,"v":0.05},{"k":10,"s":0.114,"o":0,"v":0.05},{"k":10,"s":0.118,"o":0,"v":0.05},{"k":10,"s":0.122,"o":0,"v":0.05},{"k":10,"s":0.126,"o":0,"v":0.05},{"k":10,"s":0.130,"o":0,"v":0.05},{"k":10,"s":0.134,"o":0,"v":0.05},{"k":10,"s":0.138,"o":0,"v":0.45},{"k":10,"s":0.142,"o":0,"v":0.05},{"k":10,"s":0.146,"o":0,"v":0.05},{"k":10,"s":0.150,"o":0,"v":0.05},{"k":10,"s":0.154,"o":0,"v":0.05},{"k":10,"s":0.166,"o":0,"v":0.05},{"k":10,"s":0.180,"o":0,"v":0.05}
]},
"layer":[
{"data":{"values":[{}]},
 "mark":{"type":"rule","color":"#999999","strokeWidth":2},
 "encoding":{"x":{"datum":0,"type":"quantitative"}}},
{"data":{"name":"points"},
 "transform":[{"lookup":"k","from":{"data":{"name":"names"},"key":"k","fields":["feature"]}}],
 "mark":{"type":"circle","size":44,"opacity":1},
 "encoding":{
  "x":{"field":"s","type":"quantitative","scale":{"domain":[-0.0906,0.2581],"nice":false,"zero":false},
   "axis":{"values":[-0.05,0,0.05,0.1,0.15,0.2,0.25],"format":".2f","title":"SHAP value (impact on model output)","titleFontSize":21.6,"titleFontWeight":"normal","titleColor":"#222222","titlePadding":5,"labelFontSize":17.8,"labelColor":"#333333","labelPadding":7,"domainColor":"#333333","domainWidth":1.2,"tickColor":"#333333","tickWidth":1.2,"tickSize":5.5,"grid":false}},
  "y":{"field":"feature","type":"nominal","sort":["Age_Log","Boligkreditt_Balance_Log","Weighted_Average_Interest_Rate","PD","Boligkreditt_Credit_Limit_Log","Other_External_Debt_Log","DTI","Housing_Price_Index","Age_Group_1","Sum of 31 other features"],
   "scale":{"paddingInner":0,"paddingOuter":0.5},
   "axis":{"title":null,"domain":false,"ticks":false,"tickSize":0,"labelFontSize":21.9,"labelColor":"#333333","labelPadding":39,"labelLimit":0,"grid":true,"gridDash":[1.5,2.8],"gridColor":"#cccccc","gridWidth":1,"bandPosition":0.5}},
  "yOffset":{"field":"o","type":"quantitative","scale":{"domain":[-1,1]}},
  "color":{"field":"v","type":"quantitative",
   "scale":{"domain":[0,0.17,0.33,0.5,0.62,0.78,1],"range":["#008bfb","#1e6ff0","#6a54dc","#9b2eb4","#c1009a","#e8006d","#ff0052"]},
   "legend":{"orient":"none","legendX":638,"legendY":-1,"direction":"vertical","gradientLength":512,"gradientThickness":7,"gradientStrokeWidth":0,"values":[0.002,0.998],"labelExpr":"datum.value >= 0.5 ? 'High' : 'Low'","labelFontSize":17.8,"labelColor":"#000000","labelOffset":7,"labelBaseline":"middle","title":null,"padding":0}}
 }}
]
}
